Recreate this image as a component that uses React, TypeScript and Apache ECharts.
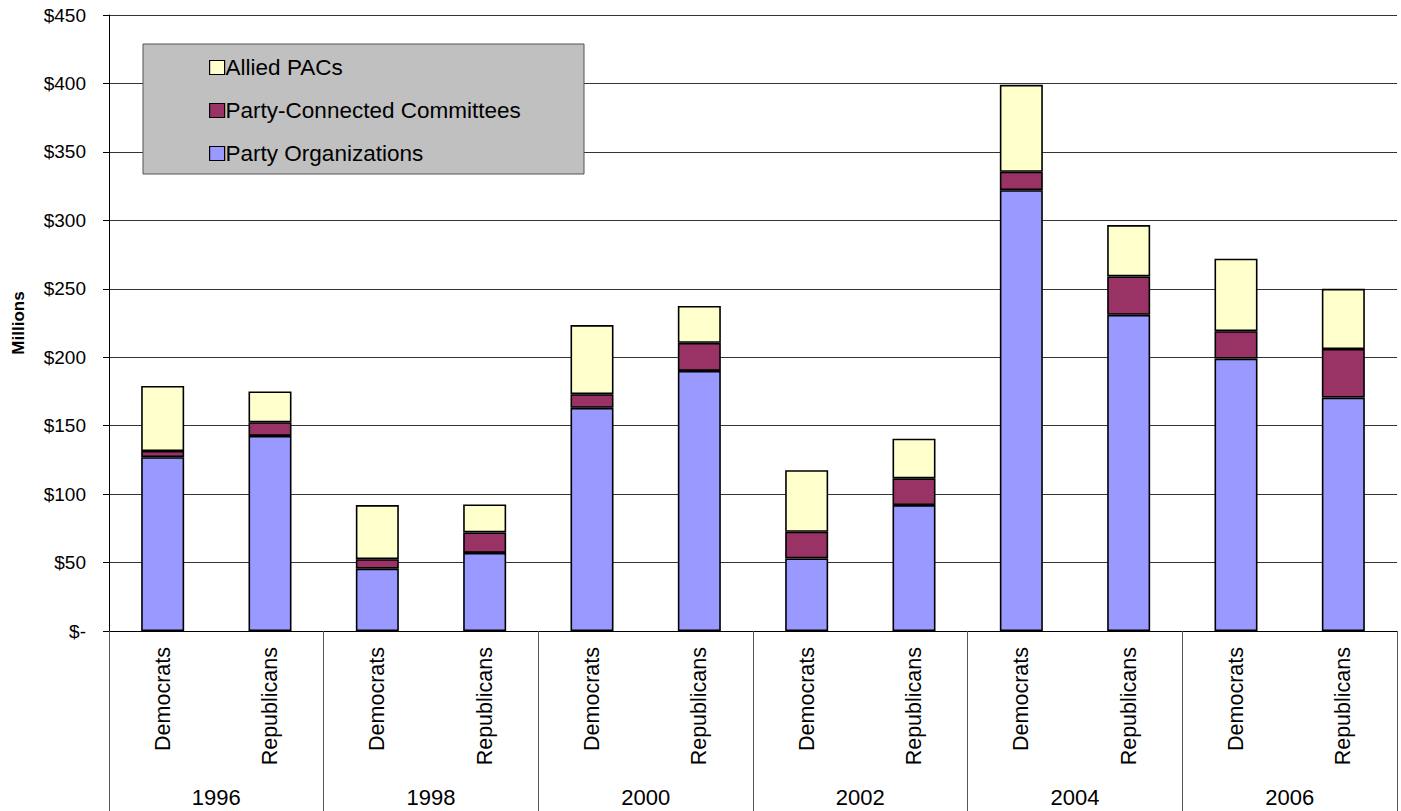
import React, { useEffect, useRef } from "react";
import * as echarts from "echarts";

const parties = [
  "Democrats", "Republicans", "Democrats", "Republicans", "Democrats", "Republicans",
  "Democrats", "Republicans", "Democrats", "Republicans", "Democrats", "Republicans",
];
const years = ["1996", "1998", "2000", "2002", "2004", "2006"];
const partyOrganizations = [127, 142.5, 45.5, 57, 163, 190, 53, 92, 322, 231, 199, 170.5];
const partyConnected = [4.5, 10, 7, 15, 10, 20.5, 19.5, 19.5, 13.5, 28, 20, 35.5];
const alliedPACs = [47.5, 22.5, 39.5, 20.5, 50.5, 27, 45, 29, 63.5, 37.5, 53, 44];
const yTicks = { min: 0, max: 450, interval: 50 };

const FONT = "'Liberation Sans', Arial, Helvetica, sans-serif";

export default function App() {
  const ref = useRef<HTMLDivElement>(null);
  useEffect(() => {
    if (!ref.current) return;
    const chart = echarts.init(ref.current, null, { renderer: "svg" });
    const barStyle = (color: string) => ({
      color,
      borderColor: "#000",
      borderWidth: 1.6,
    });
    chart.setOption({
      animation: false,
      backgroundColor: "#fff",
      textStyle: { fontFamily: FONT, color: "#000" },
      grid: { left: 109, right: 4, top: 15, bottom: 180, containLabel: false },
      legend: {
        orient: "vertical",
        left: 204,
        top: 51,
        z: 10,
        itemWidth: 15,
        itemHeight: 14,
        itemGap: 20,
        icon: "rect",
        data: ["Allied PACs", "Party-Connected Committees", "Party Organizations"],
        itemStyle: { borderColor: "#000", borderWidth: 1.2 },
        textStyle: { fontFamily: FONT, fontSize: 22.5, color: "#000", lineHeight: 23, padding: [0, 0, 0, -4] },
      },
      graphic: [
        {
          type: "rect",
          z: 3,
          shape: { x: 143, y: 44, width: 441, height: 130 },
          style: { fill: "#C0C0C0", stroke: "#555", lineWidth: 1 },
        },
      ],
      xAxis: [
        {
          type: "category",
          data: parties,
          position: "bottom",
          axisLine: { show: true, lineStyle: { color: "#000", width: 1 } },
          axisTick: { show: false },
          axisLabel: {
            rotate: 90,
            margin: 16,
            fontSize: 21.5,
            fontFamily: FONT,
            color: "#000",
            interval: 0,
          },
        },
        {
          type: "category",
          data: years,
          position: "bottom",
          axisLine: { show: false },
          axisTick: { show: true, length: 180, interval: 0, lineStyle: { color: "#555", width: 1 } },
          axisLabel: { margin: 155, fontSize: 22, fontFamily: FONT, color: "#000", interval: 0 },
          splitLine: { show: false },
        },
      ],
      yAxis: {
        type: "value",
        min: yTicks.min,
        max: yTicks.max,
        interval: yTicks.interval,
        name: "Millions",
        nameLocation: "middle",
        nameGap: 82,
        nameRotate: 90,
        nameTextStyle: { fontFamily: FONT, fontSize: 17, fontWeight: "bold", color: "#000" },
        axisLine: { show: true, lineStyle: { color: "#000", width: 1 } },
        axisTick: { show: true, length: 6, lineStyle: { color: "#000" } },
        splitLine: { show: true, lineStyle: { color: "#333", width: 1 } },
        axisLabel: {
          margin: 23,
          fontSize: 19,
          fontFamily: FONT,
          color: "#000",
          formatter: (v: number) => (v === 0 ? "$-" : "$" + v),
        },
      },
      series: [
        {
          name: "Party Organizations",
          type: "bar",
          stack: "total",
          barWidth: 43,
          data: partyOrganizations,
          itemStyle: barStyle("#9999FF"),
        },
        {
          name: "Party-Connected Committees",
          type: "bar",
          stack: "total",
          barWidth: 43,
          data: partyConnected,
          itemStyle: barStyle("#993366"),
        },
        {
          name: "Allied PACs",
          type: "bar",
          stack: "total",
          barWidth: 43,
          data: alliedPACs,
          itemStyle: barStyle("#FFFFCC"),
        },
      ],
    });
    return () => chart.dispose();
  }, []);
  return (
    <div
      ref={ref}
      style={{ position: "fixed", left: 0, top: 0, width: 1401, height: 811, background: "#fff" }}
    />
  );
}
